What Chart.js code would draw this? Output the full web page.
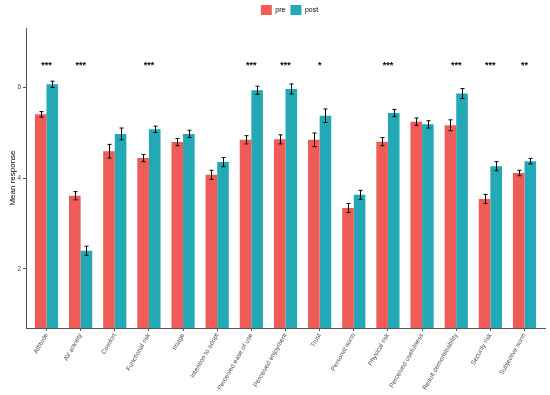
<!DOCTYPE html>
<html>
<head>
<meta charset="utf-8">
<script src="https://cdn.jsdelivr.net/npm/chart.js@4"></script>
<style>
  html, body { margin: 0; padding: 0; background: #fff; }
  #wrap { width: 550px; height: 395px; }
</style>
</head>
<body>
<div id="wrap"><canvas id="meanChart"></canvas></div>
<script>
// --- data ---
const categories = ['Attitude', 'AV anxiety', 'Comfort', 'Functional risk', 'Image',
  'Intention to adopt', 'Perceived ease of use', 'Perceived enjoyment', 'Trust',
  'Personal norm', 'Physical risk', 'Perceived usefulness', 'Result demonstrability',
  'Security risk', 'Subjective norm'];
const preMeans  = [5.40, 3.61, 4.59, 4.44, 4.79, 4.07, 4.84, 4.85, 4.84, 3.34, 4.80, 5.24, 5.16, 3.54, 4.11];
const postMeans = [6.06, 2.40, 4.97, 5.07, 4.97, 4.35, 5.93, 5.96, 5.37, 3.63, 5.43, 5.18, 5.86, 4.26, 4.37];
const preErr  = [0.06, 0.09, 0.15, 0.08, 0.08, 0.10, 0.09, 0.10, 0.15, 0.10, 0.09, 0.08, 0.12, 0.10, 0.06];
const postErr = [0.07, 0.10, 0.13, 0.07, 0.08, 0.10, 0.09, 0.11, 0.15, 0.10, 0.08, 0.08, 0.11, 0.10, 0.06];
const signif = ['***', '***', '', '***', '', '', '***', '***', '*', '', '***', '', '***', '***', '**'];
const yTicks = [2, 4, 6];
const starLevel = 6.55;

const FONT = "'Liberation Sans', Arial, sans-serif";
const PRE = '#EF5B56';
const POST = '#22A9B5';

// a little extra room under the legend, and the legend nudged right
const legendTweak = {
  id: 'legendTweak',
  afterInit(chart) {
    const lg = chart.legend;
    if (!lg) return;
    const fit = lg.fit;
    lg.fit = function () { fit.call(this); this.height += 3; };
    const draw = lg.draw;
    lg.draw = function (area) {
      chart.ctx.save();
      chart.ctx.translate(17, 0);
      draw.call(this, area);
      chart.ctx.restore();
    };
  }
};

// error bars and significance stars, placed through the chart's own scales
const extras = {
  id: 'extras',
  afterDatasetsDraw(chart) {
    const ctx = chart.ctx;
    const y = chart.scales.y;
    const errs = [preErr, postErr];
    const means = [preMeans, postMeans];
    ctx.save();
    ctx.strokeStyle = '#000';
    ctx.lineWidth = 1;
    chart.data.datasets.forEach((ds, d) => {
      chart.getDatasetMeta(d).data.forEach((bar, i) => {
        const x = Math.round(bar.x) + 0.5;
        const top = y.getPixelForValue(means[d][i] + errs[d][i]);
        const bot = y.getPixelForValue(means[d][i] - errs[d][i]);
        ctx.beginPath();
        ctx.moveTo(x, top); ctx.lineTo(x, bot);
        ctx.moveTo(x - 2, top); ctx.lineTo(x + 2, top);
        ctx.moveTo(x - 2, bot); ctx.lineTo(x + 2, bot);
        ctx.stroke();
      });
    });
    ctx.fillStyle = '#000';
    ctx.font = 'bold 9px ' + FONT;
    ctx.textAlign = 'center';
    ctx.textBaseline = 'middle';
    signif.forEach((s, i) => {
      if (!s) return;
      ctx.fillText(s, chart.scales.x.getPixelForValue(i + 1), y.getPixelForValue(starLevel) + 3);
    });
    ctx.restore();
  }
};

document.addEventListener('DOMContentLoaded', () => {
  const ctx = document.getElementById('meanChart').getContext('2d');

  new Chart(ctx, {
    type: 'bar',
    data: {
      datasets: [{
        label: 'pre',
        data: preMeans.map((v, i) => ({ x: i + 1, y: v })),
        backgroundColor: PRE
      }, {
        label: 'post',
        data: postMeans.map((v, i) => ({ x: i + 1, y: v })),
        backgroundColor: POST
      }]
    },
    options: {
      responsive: true,
      maintainAspectRatio: false,
      animation: false,
      layout: { padding: { left: 0, right: 5, top: 0, bottom: 0 } },
      datasets: { bar: { categoryPercentage: 0.68, barPercentage: 1.0 } },
      plugins: {
        legend: {
          position: 'top',
          labels: {
            boxWidth: 11, boxHeight: 10, padding: 5,
            color: '#000', font: { family: FONT, size: 7 }
          }
        },
        tooltip: { enabled: false }
      },
      scales: {
        x: {
          type: 'linear',
          offset: false,
          min: 0.4, max: 15.6,
          afterBuildTicks: s => { s.ticks = categories.map((c, i) => ({ value: i + 1 })); },
          afterFit: s => { s.height = 67; },
          grid: { offset: false, drawOnChartArea: false, drawTicks: true, tickLength: 3, color: '#555' },
          border: { display: true, color: '#555', width: 1 },
          ticks: {
            autoSkip: false, minRotation: 60, maxRotation: 60, padding: 1,
            color: '#4d4d4d', font: { family: FONT, size: 6.5 },
            callback: v => categories[v - 1]
          }
        },
        y: {
          min: 0.7, max: 7.3,
          afterBuildTicks: s => { s.ticks = yTicks.map(v => ({ value: v })); },
          afterFit: s => { s.width = 26; },
          grid: { drawOnChartArea: false, drawTicks: true, tickLength: 3, color: '#555' },
          border: { display: true, color: '#555', width: 1 },
          ticks: { padding: 2, color: '#4d4d4d', font: { family: FONT, size: 6.5 } },
          title: {
            display: true, text: 'Mean response', color: '#000',
            font: { family: FONT, size: 8 }, padding: { top: 8, bottom: 0 }
          }
        }
      }
    },
    plugins: [legendTweak, extras]
  });
});
</script>
</body>
</html>
